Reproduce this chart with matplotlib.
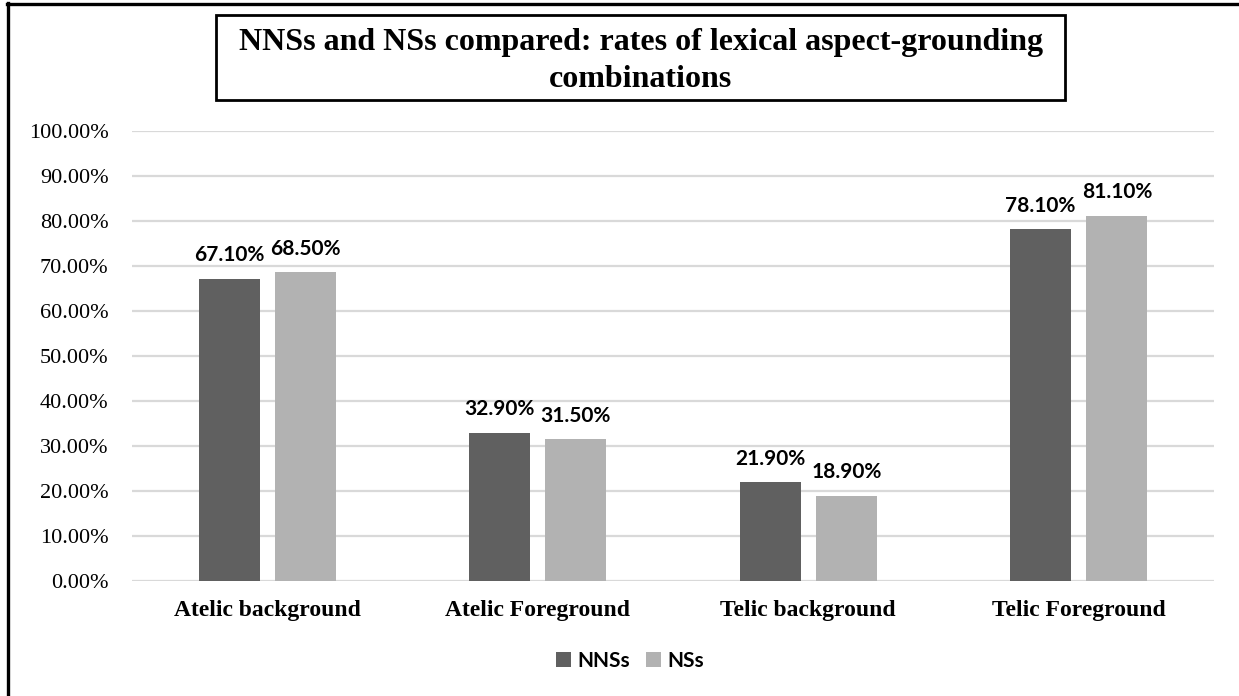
import matplotlib.pyplot as plt
import numpy as np
from matplotlib.lines import Line2D
from matplotlib.patches import Rectangle

categories = ['Atelic background', 'Atelic Foreground', 'Telic background', 'Telic Foreground']
series_names = ['NNSs', 'NSs']
nnss = [0.671, 0.329, 0.219, 0.781]
nss = [0.685, 0.315, 0.189, 0.811]
yticks = np.arange(0, 1.01, 0.1)

colors = ['#606060', '#b2b2b2']
serif = 'Liberation Serif'
label_font = 'Lato'

W, H = 1239, 696
fig = plt.figure(figsize=(W / 100, H / 100), dpi=100)
ax = fig.add_axes([132 / W, 1 - 581 / H, (1214 - 132) / W, (581 - 130.5) / H])

x = np.arange(len(categories))
width = 0.226
offset = 0.141
for vals, name, col, dx in zip([nnss, nss], series_names, colors, [-offset, offset]):
    bars = ax.bar(x + dx, vals, width, color=col, label=name, zorder=3)
    for b, v in zip(bars, vals):
        ax.annotate(f'{v * 100:.2f}%', (b.get_x() + b.get_width() / 2, v),
                    xytext=(0, 12.5), textcoords='offset points', ha='center', va='baseline',
                    fontsize=15, fontweight='bold', family=label_font, color='black')

ax.set_xlim(-0.5, len(categories) - 0.5)
ax.set_ylim(0, 1.0)
ax.set_yticks(yticks)
ax.set_yticklabels([f'{t * 100:.2f}%' for t in yticks], family=serif, fontsize=16)
ax.set_xticks(x)
ax.set_xticklabels(categories, family=serif, fontsize=17, fontweight='bold')
ax.tick_params(axis='both', length=0)
ax.tick_params(axis='y', pad=17)
ax.tick_params(axis='x', pad=13.5)
ax.grid(axis='y', color='#d9d9d9', lw=1.6, zorder=0)
for s in ax.spines.values():
    s.set_visible(False)

leg = fig.legend(loc='center', bbox_to_anchor=(630 / W, 1 - 661 / H), ncol=2, frameon=False,
                 handlelength=0.7, handleheight=0.7, handletextpad=0.3, columnspacing=0.8,
                 prop={'family': label_font, 'weight': 'bold', 'size': 15})

# title box
fig.add_artist(Rectangle((216 / W, 1 - 100 / H), (1065 - 216) / W, (100 - 15) / H,
                         transform=fig.transFigure, fill=False, ec='black', lw=2))
fig.text(641 / W, 1 - 61 / H,
         'NNSs and NSs compared: rates of lexical aspect-grounding\ncombinations',
         ha='center', va='center', family=serif, fontweight='bold', fontsize=23,
         linespacing=1.38)

# outer frame (top and left edges)
fig.add_artist(Line2D([8 / W, 8 / W], [0, 1 - 3 / H], transform=fig.transFigure, color='black', lw=2.4))
fig.add_artist(Line2D([7 / W, 1], [1 - 4 / H, 1 - 4 / H], transform=fig.transFigure, color='black', lw=2.4))

fig.savefig('out.png', dpi=100)
